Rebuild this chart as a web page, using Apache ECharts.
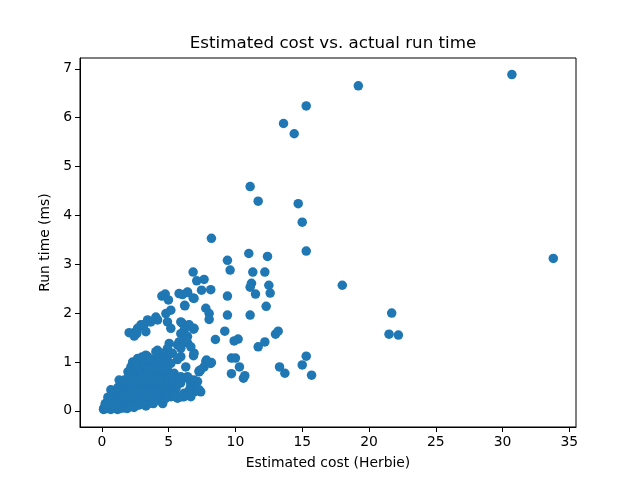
<!DOCTYPE html>
<html>
<head>
<meta charset="utf-8">
<script src="https://cdn.jsdelivr.net/npm/echarts@6/dist/echarts.min.js"></script>
<style>html,body{margin:0;padding:0;background:#fff}#c{width:640px;height:480px}</style>
</head>
<body>
<div id="c"></div>
<script>
const xTicks = [0, 5, 10, 15, 20, 25, 30, 35];
const yTicks = [0, 1, 2, 3, 4, 5, 6, 7];

const outliers = [[30.7,6.88],[33.8,3.12],[19.2,6.65],[15.3,6.24],[13.6,5.88],[14.4,5.67],[11.1,4.59],[11.7,4.29],[14.7,4.24],[15.0,3.86],[15.3,3.27],[18.0,2.57],[8.2,3.53],[11.0,3.22],[12.4,3.16],[9.4,3.08],[9.6,2.88],[11.3,2.84],[12.2,2.84],[11.2,2.61],[11.1,2.53],[12.5,2.57],[12.6,2.41],[11.5,2.39],[9.4,2.35],[12.3,2.14],[9.4,1.96],[11.1,1.96],[21.7,2.0],[21.5,1.57],[22.2,1.55],[15.3,1.12],[15.0,0.94],[15.7,0.73],[13.3,0.9],[13.7,0.77],[13.0,1.57],[13.2,1.63],[12.2,1.41],[11.7,1.31],[10.2,1.47],[9.9,1.43],[9.2,1.63],[9.7,1.08],[10.0,1.08],[10.3,0.9],[9.7,0.76],[10.6,0.67],[10.7,0.72],[8.5,1.46]];

const midBand = [[6.83,2.84],[7.1,2.66],[7.65,2.69],[7.46,2.47],[8.15,2.48],[6.41,2.43],[6.03,2.38],[6.83,2.31],[6.2,2.16],[7.78,2.10],[8.03,1.99],[8.03,1.87],[6.03,1.79],[6.53,1.75],[6.86,1.67],[5.9,1.38],[6.41,1.39],[7.83,1.04],[8.15,0.97],[7.65,0.9],[7.28,0.82],[6.28,0.9],[6.9,0.63],[7.16,0.43],[6.41,0.67],[6.16,0.36]];

const upperBand = [[4.49,2.35],[4.74,2.39],[4.98,2.27],[5.78,2.40],[6.41,2.42],[6.9,2.30],[6.21,2.15],[5.16,2.06],[4.79,1.99],[4.04,1.92],[3.42,1.86],[2.92,1.76],[2.67,1.69],[2.54,1.62],[2.04,1.60],[2.6,1.58],[3.29,1.62],[2.42,1.53],[4.91,1.82],[5.16,1.69],[5.91,1.82],[6.16,1.65],[6.53,1.76],[6.9,1.69],[5.91,1.58],[6.41,1.52],[6.28,1.45],[5.78,1.41],[5.04,1.38],[5.66,1.35],[4.91,1.28],[5.28,1.18],[5.91,1.11],[5.66,1.05],[6.66,1.31],[6.86,1.13],[8.2,0.99],[7.28,0.80],[6.41,0.70],[6.66,0.56],[7.16,0.60],[7.40,0.39],[6.9,0.39],[6.66,0.29],[6.03,0.29],[4.66,0.29],[5.03,0.33],[3.16,1.76],[3.66,1.82],[4.17,1.86],[5.91,1.28],[6.9,1.18],[7.4,0.84],[7.78,1.01],[6.66,0.63],[7.28,0.43],[6.66,0.5],[5.66,0.26],[6.16,0.29],[4.54,0.26],[4.16,1.24]];

const cluster = [[1.29,0.63],[2.17,0.90],[2.67,1.07],[3.29,1.14],[4.04,1.21],[4.54,1.18],[4.91,1.11],[5.16,0.97],[4.41,0.84],[5.41,0.77],[5.78,0.67],[2.67,1.04],[3.42,1.11],[4.17,1.14],[4.66,1.07],[4.29,0.90],[3.66,0.90],[2.92,0.84],[2.42,0.90],[2.29,0.70],[2.92,0.63],[3.42,0.70],[4.17,0.70],[4.91,0.70],[5.16,0.56],[5.91,0.70],[5.41,0.43],[4.66,0.43],[4.17,0.50],[3.42,0.50],[2.92,0.43],[2.42,0.50],[1.92,0.50],[1.42,0.43],[1.17,0.36],[0.92,0.29],[0.67,0.22],[0.42,0.16],[0.17,0.06],[0.67,0.06],[1.17,0.09],[1.67,0.16],[2.17,0.22],[2.67,0.29],[3.42,0.29],[3.91,0.29],[4.41,0.36],[4.17,0.22],[3.66,0.19],[3.16,0.16],[2.67,0.12],[2.17,0.09],[1.67,0.06],[1.17,0.03],[0.67,0.03],[5.16,0.29],[5.27,0.43],[6.55,0.43],[5.9,0.57],[5.9,0.29],[1.67,0.63],[0.67,0.43]];

const fill = [[0.12,0.03],[0.15,0.05],[0.2,0.04],[0.3,0.08],[0.4,0.05],[0.5,0.12],[0.6,0.08],[0.7,0.18],[0.8,0.1],[0.9,0.25],[1.0,0.15],[1.1,0.3],[1.2,0.08],[1.3,0.2],[1.4,0.35],[1.5,0.12],[1.6,0.28],[1.7,0.4],[1.8,0.18],[1.9,0.32],[2.0,0.45],[2.1,0.25],[2.2,0.55],[2.3,0.15],[2.4,0.38],[2.5,0.6],[2.6,0.22],[2.7,0.48],[2.8,0.75],[2.9,0.3],[3.0,0.55],[3.1,0.85],[3.2,0.2],[3.3,0.4],[3.4,0.65],[3.5,0.95],[3.6,0.3],[3.7,0.55],[3.8,0.8],[3.9,1.0],[4.0,0.4],[4.1,0.62],[4.2,0.85],[4.3,0.3],[4.4,0.52],[4.5,0.75],[4.6,0.98],[4.7,0.4],[4.8,0.6],[4.9,0.85],[5.0,0.5],[5.2,0.7],[5.5,0.6],[3.0,1.0],[2.5,0.85],[2.0,0.7],[1.5,0.5],[1.0,0.35],[0.6,0.25],[3.5,0.15],[4.0,0.25],[2.8,0.12]];

const fill2 = [[0.35,0.12],[0.55,0.18],[0.85,0.2],[0.95,0.06],[1.25,0.28],[1.45,0.22],[1.55,0.38],[1.75,0.3],[1.85,0.48],[1.95,0.1],[2.05,0.35],[2.15,0.62],[2.35,0.45],[2.45,0.2],[2.55,0.35],[2.65,0.62],[2.75,0.9],[2.85,0.22],[2.95,0.7],[3.05,0.4],[3.15,0.62],[3.25,0.95],[3.35,0.3],[3.45,0.85],[3.55,0.45],[3.65,0.7],[3.75,1.05],[3.85,0.4],[3.95,0.62],[4.05,0.85],[4.15,1.0],[4.25,0.45],[4.35,0.65],[4.45,1.0],[4.55,0.55],[4.65,0.85],[4.75,0.25],[4.85,0.48],[4.95,0.6],[5.05,0.4],[5.3,0.58],[5.55,0.45],[5.7,0.55],[5.35,0.3],[4.55,0.15],[3.85,0.15],[3.3,0.1],[2.4,0.07],[1.9,0.05],[1.4,0.05],[0.85,0.12],[0.25,0.15],[0.45,0.28],[0.75,0.35],[1.2,0.48],[1.55,0.6],[1.95,0.8],[2.3,1.0],[2.55,1.0],[3.0,1.1],[3.6,1.05]];

const points = [].concat(outliers, midBand, upperBand, cluster, fill, fill2);

const font = 'DejaVu Sans';
const chart = echarts.init(document.getElementById('c'), null, {renderer: 'canvas'});
chart.setOption({
  animation: false,
  backgroundColor: '#fff',
  title: {
    text: 'Estimated cost vs. actual run time',
    left: 328, top: 30, textAlign: 'center',
    textStyle: {fontFamily: font, fontSize: 16.7, fontWeight: 'normal', color: '#000'}
  },
  grid: {left: 80, right: 64, top: 58, bottom: 53, show: true, borderColor: '#000', borderWidth: 1, backgroundColor: 'transparent'},
  xAxis: {
    type: 'value', min: -1.64, max: 35.5,
    name: 'Estimated cost (Herbie)', nameLocation: 'middle', nameGap: 29,
    nameTextStyle: {fontFamily: font, fontSize: 13.9, color: '#000'},
    axisLine: {show: true, onZero: false, lineStyle: {color: '#000', width: 1}},
    axisTick: {show: true, inside: false, length: 5, lineStyle: {color: '#000', width: 1}, customValues: xTicks},
    axisLabel: {fontFamily: font, fontSize: 13.9, color: '#000', margin: 8, customValues: xTicks},
    splitLine: {show: false}
  },
  yAxis: {
    type: 'value', min: -0.33, max: 7.22,
    name: 'Run time (ms)', nameLocation: 'middle', nameGap: 22, nameRotate: 90,
    nameTextStyle: {fontFamily: font, fontSize: 13.9, color: '#000'},
    axisLine: {show: true, onZero: false, lineStyle: {color: '#000', width: 1}},
    axisTick: {show: true, inside: false, length: 5, lineStyle: {color: '#000', width: 1}, customValues: yTicks},
    axisLabel: {fontFamily: font, fontSize: 13.9, color: '#000', margin: 8, customValues: yTicks},
    splitLine: {show: false}
  },
  series: [{
    type: 'scatter',
    data: points,
    symbol: 'circle',
    symbolSize: 9.5,
    itemStyle: {color: '#1f77b4', opacity: 1},
    silent: true
  }]
});
</script>
</body>
</html>
